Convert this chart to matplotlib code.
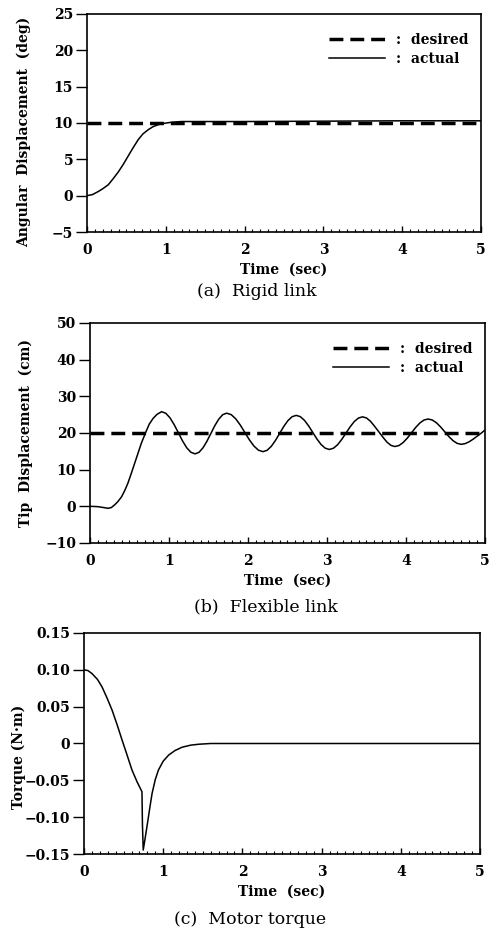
import matplotlib
matplotlib.use("Agg")
import matplotlib.pyplot as plt
from matplotlib.ticker import MultipleLocator

plt.rcParams["font.family"] = "DejaVu Serif"
plt.rcParams["font.weight"] = "bold"
plt.rcParams["axes.labelweight"] = "bold"

# (a) rigid link, angular displacement (deg)
t_a = [0, 0.07, 0.14, 0.2, 0.27, 0.33, 0.40, 0.46, 0.52, 0.58, 0.65, 0.71,
       0.78, 0.84, 0.905, 0.98, 1.07, 1.2, 1.5, 2, 3, 4, 5]
v_a = [0, 0.15, 0.55, 0.95, 1.5, 2.3, 3.3, 4.3, 5.4, 6.5, 7.7, 8.5,
       9.1, 9.5, 9.77, 9.95, 10.1, 10.2, 10.2, 10.2, 10.25, 10.3, 10.3]
des_a = 10

# (b) flexible link, tip displacement (cm)
t_b = [0, 0.05, 0.10, 0.16, 0.23, 0.27, 0.31, 0.35, 0.40, 0.44, 0.48, 0.52,
       0.565, 0.61, 0.65, 0.71, 0.75, 0.80, 0.85, 0.907,
       0.960, 1.013, 1.066, 1.119, 1.171, 1.224, 1.277, 1.33,
       1.38, 1.43, 1.48, 1.53, 1.58, 1.63, 1.68, 1.73,
       1.7875, 1.845, 1.9025, 1.96, 2.0175, 2.075, 2.1325, 2.19,
       2.2425, 2.295, 2.3475, 2.40, 2.4525, 2.505, 2.5575, 2.61,
       2.6625, 2.715, 2.7675, 2.82, 2.8725, 2.925, 2.9775, 3.03,
       3.0825, 3.135, 3.1875, 3.24, 3.2925, 3.345, 3.3975, 3.45,
       3.50, 3.55, 3.60, 3.655, 3.71, 3.76, 3.81, 3.86,
       3.9125, 3.965, 4.0175, 4.07, 4.1225, 4.175, 4.2275, 4.28,
       4.3325, 4.385, 4.4375, 4.49, 4.5425, 4.595, 4.6475, 4.70,
       4.75, 4.80, 4.85, 4.90, 4.95, 5.0]
v_b = [0, -0.05, -0.1, -0.3, -0.55, -0.35, 0.35, 1.2, 2.6, 4.3, 6.3, 8.8,
       11.7, 14.6, 17.2, 20.4, 22.4, 24.0, 25.1, 25.8,
       25.36, 24.12, 22.25, 20.05, 17.85, 15.98, 14.74, 14.3,
       14.72, 15.93, 17.72, 19.85, 21.98, 23.77, 24.98, 25.4,
       25.0, 23.86, 22.16, 20.15, 18.14, 16.44, 15.30, 14.9,
       15.28, 16.35, 17.95, 19.85, 21.75, 23.35, 24.42, 24.8,
       24.45, 23.44, 21.93, 20.15, 18.37, 16.86, 15.85, 15.5,
       15.84, 16.80, 18.25, 19.95, 21.65, 23.10, 24.06, 24.4,
       24.09, 23.21, 21.90, 20.35, 18.80, 17.49, 16.61, 16.3,
       16.58, 17.40, 18.61, 20.05, 21.49, 22.70, 23.52, 23.8,
       23.54, 22.79, 21.67, 20.35, 19.03, 17.91, 17.16, 16.9,
       17.1, 17.6, 18.3, 19.1, 19.9, 20.8]
des_b = 20

# (c) motor torque (N.m)
t_c = [0, 0.05, 0.10, 0.17, 0.227, 0.29, 0.354, 0.42, 0.48, 0.545, 0.606,
       0.67, 0.732, 0.738, 0.748, 0.77, 0.795, 0.83, 0.86, 0.90, 0.94, 1.0,
       1.07, 1.15, 1.24, 1.35, 1.45, 1.6, 2, 3, 4, 5]
v_c = [0.1, 0.099, 0.095, 0.087, 0.077, 0.062, 0.0455, 0.025, 0.005, -0.016,
       -0.036, -0.052, -0.0654, -0.11, -0.1446, -0.13, -0.113, -0.088,
       -0.0676, -0.049, -0.036, -0.024, -0.0156, -0.0095, -0.005, -0.0022,
       -0.001, 0, 0, 0, 0, 0]

yt_a = [-5, 0, 5, 10, 15, 20, 25]
yl_a = ["\u22125", "0", "5", "10", "15", "20", "25"]
yt_b = [-10, 0, 10, 20, 30, 40, 50]
yl_b = ["\u221210", "0", "10", "20", "30", "40", "50"]
yt_c = [-0.15, -0.10, -0.05, 0, 0.05, 0.10, 0.15]
yl_c = ["\u22120.15", "\u22120.10", "\u22120.05", "0", "0.05", "0.10", "0.15"]

fig = plt.figure(figsize=(4.92, 9.31), dpi=100)
ax_a = fig.add_axes([0.1768, 0.7508, 0.8008, 0.2342])
ax_b = fig.add_axes([0.1829, 0.4168, 0.8028, 0.2363])
ax_c = fig.add_axes([0.1707, 0.0827, 0.8049, 0.2374])


def style(ax, yticks, ylabels, ylabel, lx, ly):
    ax.set_xlim(0, 5)
    ax.set_ylim(yticks[0], yticks[-1])
    ax.set_xticks(range(6))
    ax.xaxis.set_minor_locator(MultipleLocator(0.1))
    ax.set_yticks(yticks)
    ax.set_yticklabels(ylabels)
    ax.tick_params(axis="x", which="major", direction="in", length=4,
                   width=1, pad=8, labelsize=10)
    ax.tick_params(axis="x", which="minor", direction="in", length=2.5,
                   width=0.8)
    ax.tick_params(axis="y", direction="out", length=8, width=1, pad=2,
                   labelsize=10)
    for s in ax.spines.values():
        s.set_linewidth(1.2)
    ax.set_xlabel("Time  (sec)", fontsize=10, labelpad=4)
    ax.set_ylabel(ylabel, fontsize=10)
    ax.yaxis.set_label_coords(lx, ly)


for ax, t, v, des in [(ax_a, t_a, v_a, des_a), (ax_b, t_b, v_b, des_b)]:
    ax.plot([0, 5], [des, des], color="black", lw=2.5, dashes=(4, 2),
            label=":  desired")
    ax.plot(t, v, color="black", lw=1.1, label=":  actual")
    ax.legend(loc="upper right", bbox_to_anchor=(1.0, 0.97), frameon=False,
              fontsize=10, handlelength=4.0, handletextpad=0.8,
              labelspacing=0.35)

ax_c.plot(t_c, v_c, color="black", lw=1.1)

style(ax_a, yt_a, yl_a, "Angular  Displacement  (deg)", -0.142, 0.46)
style(ax_b, yt_b, yl_b, "Tip  Displacement  (cm)", -0.144, 0.5)
style(ax_c, yt_c, yl_c, "Torque (N\u00b7m)", -0.146, 0.44)

cap = dict(family="DejaVu Serif", weight="normal", fontsize=12.5,
           ha="center", va="center")
fig.text(257 / 492, 1 - 292 / 931, "(a)  Rigid link", **cap)
fig.text(266 / 492, 1 - 607 / 931, "(b)  Flexible link", **cap)
fig.text(250 / 492, 1 - 920 / 931, "(c)  Motor torque", **cap)

fig.savefig("out.png", dpi=100)
